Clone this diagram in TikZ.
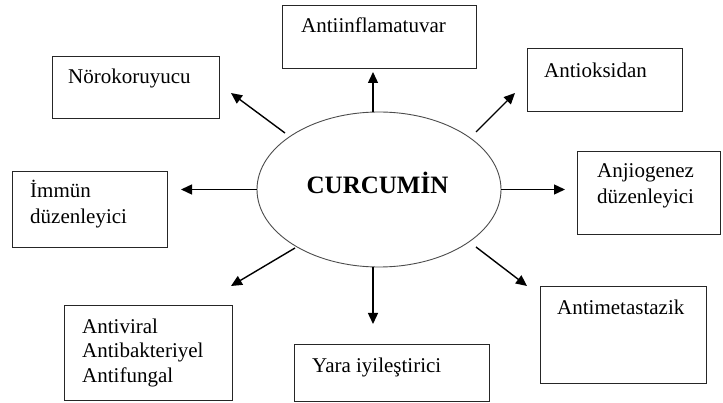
\documentclass[tikz,border=0pt]{standalone}
\usepackage{fontspec}
\setmainfont{Liberation Serif}
\usetikzlibrary{shapes.geometric,arrows.meta}
\begin{document}
\begin{tikzpicture}[x=1pt,y=-1pt,
  box/.style={draw=black!85,line width=1.3pt,rectangle,inner sep=0pt,anchor=north west},
  lbl/.style={inner sep=0pt,anchor=base west,align=left,font=\fontsize{21}{26}\selectfont},
  arr/.style={line width=1.4pt,-{Triangle[length=11pt,width=10pt]}}]
\path[use as bounding box,fill=white] (0,0) rectangle (723,403);
% centre
\node[ellipse,draw=black!70,line width=0.9pt,minimum width=244pt,minimum height=155pt,inner sep=0pt] (c) at (379,189.5) {};
\node[inner sep=0pt,anchor=base,font=\fontsize{25}{30}\selectfont\bfseries] (ct) at (377.5,194) {CURCUMİN};
% boxes (multi-line labels are placed by the baseline of their last line)
\node[box,minimum width=194pt,minimum height=63pt] (b1) at (282,5) {};
\node[lbl] (t1) at (301,33) {Antiinflamatuvar};
\node[box,minimum width=167pt,minimum height=62pt] (b2) at (52,56) {};
\node[lbl] (t2) at (68,84) {Nörokoruyucu};
\node[box,minimum width=155pt,minimum height=63pt] (b3) at (527,48) {};
\node[lbl] (t3) at (544,78) {Antioksidan};
\node[box,minimum width=143pt,minimum height=83pt] (b4) at (577,151) {};
\node[lbl] (t4) at (597,204) {Anjiogenez\\düzenleyici};
\node[box,minimum width=155pt,minimum height=76pt] (b5) at (12,171) {};
\node[lbl] (t5) at (30,224) {İmmün\\düzenleyici};
\node[box,minimum width=168pt,minimum height=95pt] (b6) at (64,305) {};
\node[lbl,font=\fontsize{21}{24.5}\selectfont] (t6) at (82,382) {Antiviral\\Antibakteriyel\\Antifungal};
\node[box,minimum width=195pt,minimum height=57pt] (b7) at (294,344) {};
\node[lbl] (t7) at (312,372) {Yara iyileştirici};
\node[box,minimum width=166pt,minimum height=97pt] (b8) at (540,286) {};
\node[lbl] (t8) at (557,315) {Antimetastazik};
% arrow ends
\coordinate (s1) at (373,112); \coordinate (e1) at (373,72);
\coordinate (s2) at (285,133); \coordinate (e2) at (231,93);
\coordinate (s3) at (476,132); \coordinate (e3) at (515,93);
\coordinate (e4) at (565,189.5);
\coordinate (e5) at (181,189.5);
\coordinate (s6) at (295,248); \coordinate (e6) at (231,286);
\coordinate (s7) at (373,267); \coordinate (e7) at (373,324);
\coordinate (s8) at (476,247); \coordinate (e8) at (527,286);
\draw[arr] (s1) -- (e1);
\draw[arr] (s2) -- (e2);
\draw[arr] (s3) -- (e3);
\draw[arr] (c.east) -- (e4);
\draw[arr] (c.west) -- (e5);
\draw[arr] (s6) -- (e6);
\draw[arr] (s7) -- (e7);
\draw[arr] (s8) -- (e8);
\end{tikzpicture}
\end{document}
